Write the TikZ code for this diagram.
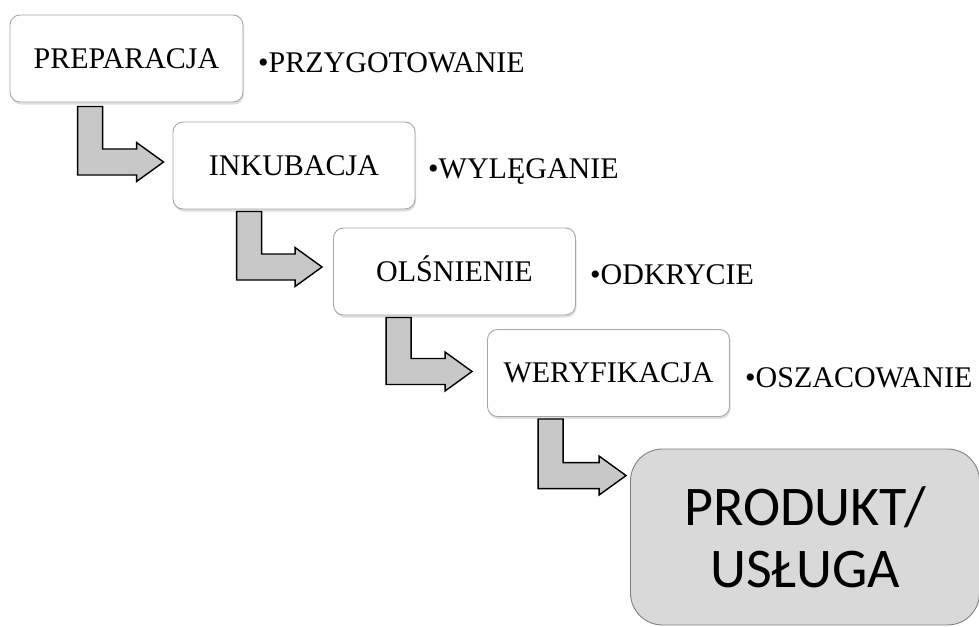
\documentclass[tikz,border=0pt]{standalone}
\usepackage{fontspec}
\setmainfont{Liberation Serif}
\newfontfamily\carlito{Carlito}
\usetikzlibrary{shadows,calc}
\definecolor{boxline}{HTML}{A6A6A6}
\definecolor{arrowfill}{HTML}{C8C8C8}
\definecolor{prodfill}{HTML}{D9D9D9}
\definecolor{prodline}{HTML}{808080}
\tikzset{
  stagebox/.style={draw=boxline, line width=0.9pt, fill=white, rounded corners=10pt,
    minimum height=87pt, minimum width=242pt, text height=19.5pt, text depth=0pt,
    font=\fontsize{30}{35}\selectfont,
    drop shadow={opacity=0.25, shadow xshift=1pt, shadow yshift=-2.5pt}},
  prodbox/.style={draw=prodline, line width=0.9pt, fill=prodfill, rounded corners=32pt,
    minimum width=349pt, minimum height=176pt, align=center,
    font=\carlito\fontsize{56}{62}\selectfont},
  bullettext/.style={anchor=base west, inner sep=0pt, font=\fontsize{30}{35}\selectfont},
  barrow/.style={draw=black, line width=1.4pt, fill=arrowfill, line join=miter}
}
\newcommand\bentarrow[2]{%
  \draw[barrow] let \p1=(#1), \p2=(#2) in
    (\x1,\y1) -- (\x1+25pt,\y1) -- (\x1+25pt,\y2+13pt) -- (\x2-27pt,\y2+13pt)
    -- (\x2-27pt,\y2+19.5pt) -- (\x2,\y2) -- (\x2-27pt,\y2-19.5pt)
    -- (\x2-27pt,\y2-13pt) -- (\x1,\y2-13pt) -- cycle;}
\begin{document}
\begin{tikzpicture}[x=1pt,y=-1pt]
\useasboundingbox (0,0) rectangle (979,626);
% stage boxes
\node[stagebox, minimum width=233pt] (b1) at (126.5,58.5) {PREPARACJA};
\node[stagebox] (b2) at (294,165.5) {INKUBACJA};
\node[stagebox] (b3) at (454.5,271.5) {OLŚNIENIE};
\node[stagebox] (b4) at (608.5,373) {WERYFIKACJA};
\node[prodbox] (b5) at (805,537) {PRODUKT/\\USŁUGA};
% side texts
\node[bullettext] (t1) at (258,72) {•PRZYGOTOWANIE};
\node[bullettext] (t2) at (428,178) {•WYLĘGANIE};
\node[bullettext] (t3) at (590,284) {•ODKRYCIE};
\node[bullettext] (t4) at (745,387) {•OSZACOWANIE};
% arrow anchor points
\coordinate (a1s) at ($(b1.south west)+(68,4)$);
\coordinate (a1e) at ($(b2.west)+(-9,-3.5)$);
\coordinate (a2s) at ($(b2.south west)+(64,2)$);
\coordinate (a2e) at ($(b3.west)+(-11,-4.5)$);
\coordinate (a3s) at ($(b3.south west)+(53,2)$);
\coordinate (a3e) at ($(b4.west)+(-15,-1.5)$);
\coordinate (a4s) at ($(b4.south west)+(51,2)$);
\coordinate (a4e) at ($(b5.north west)+(-4,27)$);
\bentarrow{a1s}{a1e}
\bentarrow{a2s}{a2e}
\bentarrow{a3s}{a3e}
\bentarrow{a4s}{a4e}
\end{tikzpicture}
\end{document}
